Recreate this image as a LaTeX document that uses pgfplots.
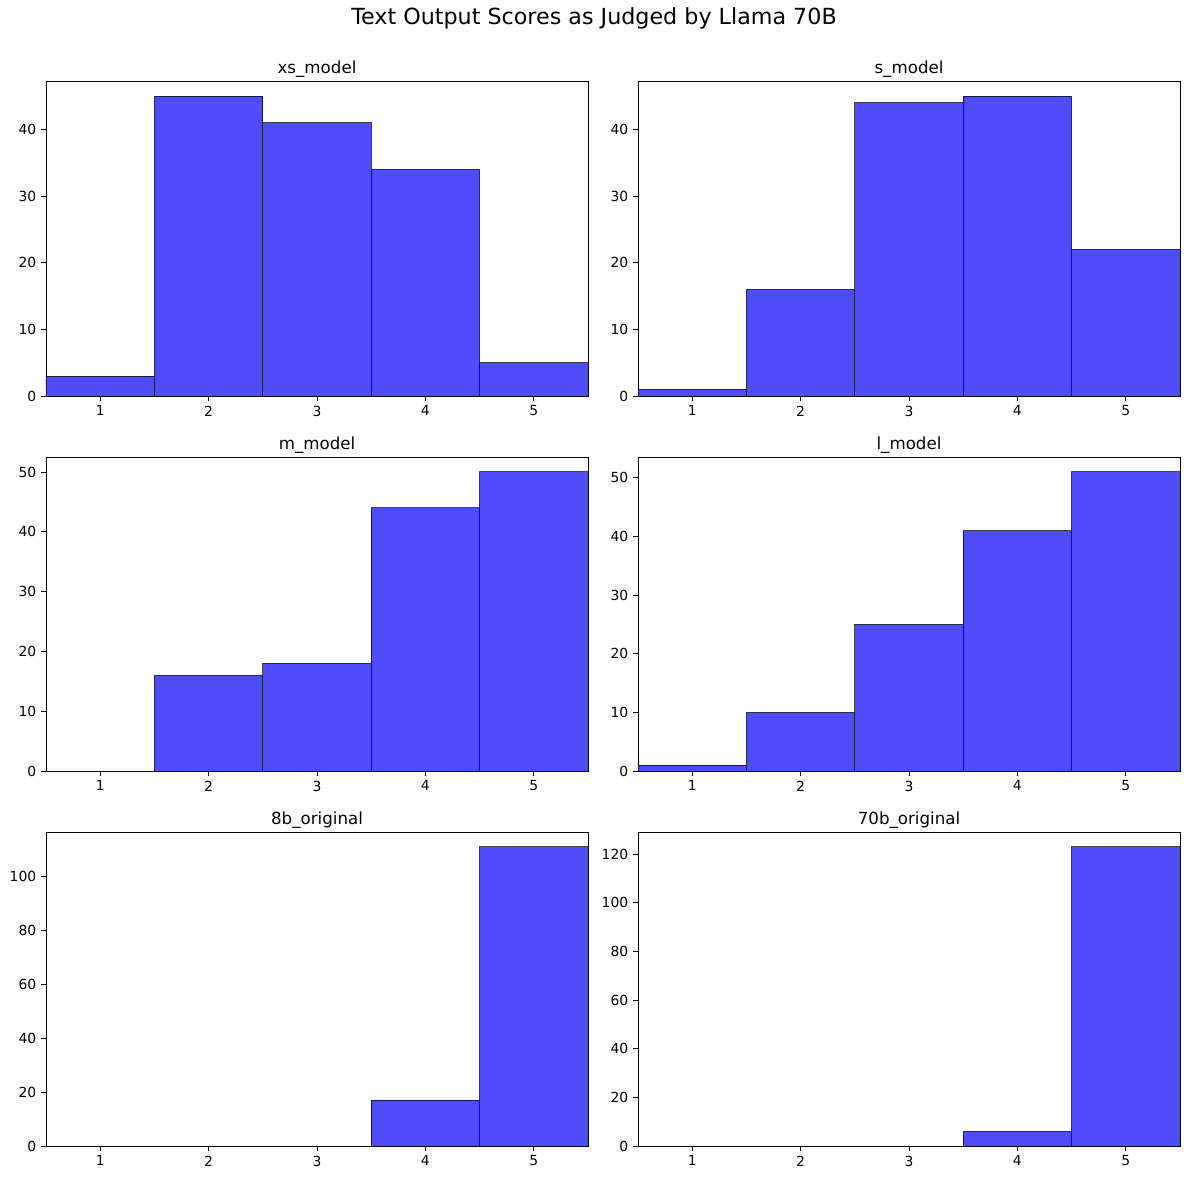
\documentclass[border=0pt]{standalone}
\usepackage{pgfplots}
\pgfplotsset{compat=1.18}
\usepackage{fontspec}
\setmainfont{DejaVu Sans}
\definecolor{barblue}{RGB}{77,77,255}
\newlength{\px}
\setlength{\px}{0.72pt}
\pgfplotsset{
  hb/.style={fill=barblue, draw=black, draw opacity=0.7, line width=0.7pt},
  hist/.style={
    scale only axis,
    width=542\px, height=315\px,
    anchor=north west,
    xmin=0.5, xmax=5.5, ymin=0,
    xtick={1,2,3,4,5},
    tick align=outside, tick pos=lower,
    major tick length=3.5pt,
    tick style={black, line width=0.6pt},
    axis line style={black, line width=0.6pt},
    ticklabel style={font=\fontsize{10}{12}\selectfont},
    /pgf/number format/assume math mode=true,
    title style={font=\fontsize{12}{14}\selectfont, yshift=-7pt},
    ybar, bar width=1, bar shift=0,
  }
}
\begin{document}
\begin{tikzpicture}
\path[use as bounding box] (0,0) rectangle (1189\px,-1180\px);
\node[font=\fontsize{16}{19}\selectfont] at (594\px,-18\px) {Text Output Scores as Judged by Llama 70B};

\begin{axis}[hist, at={(46\px,-81\px)}, title={xs\_model}, ymax=47.25, ytick={0,10,20,30,40}]
\addplot[hb] coordinates {(1,3) (2,45) (3,41) (4,34) (5,5)};
\end{axis}
\begin{axis}[hist, at={(638\px,-81\px)}, title={s\_model}, ymax=47.25, ytick={0,10,20,30,40}]
\addplot[hb] coordinates {(1,1) (2,16) (3,44) (4,45) (5,22)};
\end{axis}

\begin{axis}[hist, at={(46\px,-457\px)}, height=314\px, title={m\_model}, ymax=52.5, ytick={0,10,20,30,40,50}]
\addplot[hb] coordinates {(1,0) (2,16) (3,18) (4,44) (5,50)};
\end{axis}
\begin{axis}[hist, at={(638\px,-457\px)}, height=314\px, title={l\_model}, ymax=53.55, ytick={0,10,20,30,40,50}]
\addplot[hb] coordinates {(1,1) (2,10) (3,25) (4,41) (5,51)};
\end{axis}

\begin{axis}[hist, at={(46\px,-832\px)}, height=314\px, title={8b\_original}, ymax=116.55, ytick={0,20,40,60,80,100}]
\addplot[hb] coordinates {(1,0) (2,0) (3,0) (4,17) (5,111)};
\end{axis}
\begin{axis}[hist, at={(638\px,-832\px)}, height=314\px, title={70b\_original}, ymax=129.15, ytick={0,20,40,60,80,100,120}]
\addplot[hb] coordinates {(1,0) (2,0) (3,0) (4,6) (5,123)};
\end{axis}
\end{tikzpicture}
\end{document}
